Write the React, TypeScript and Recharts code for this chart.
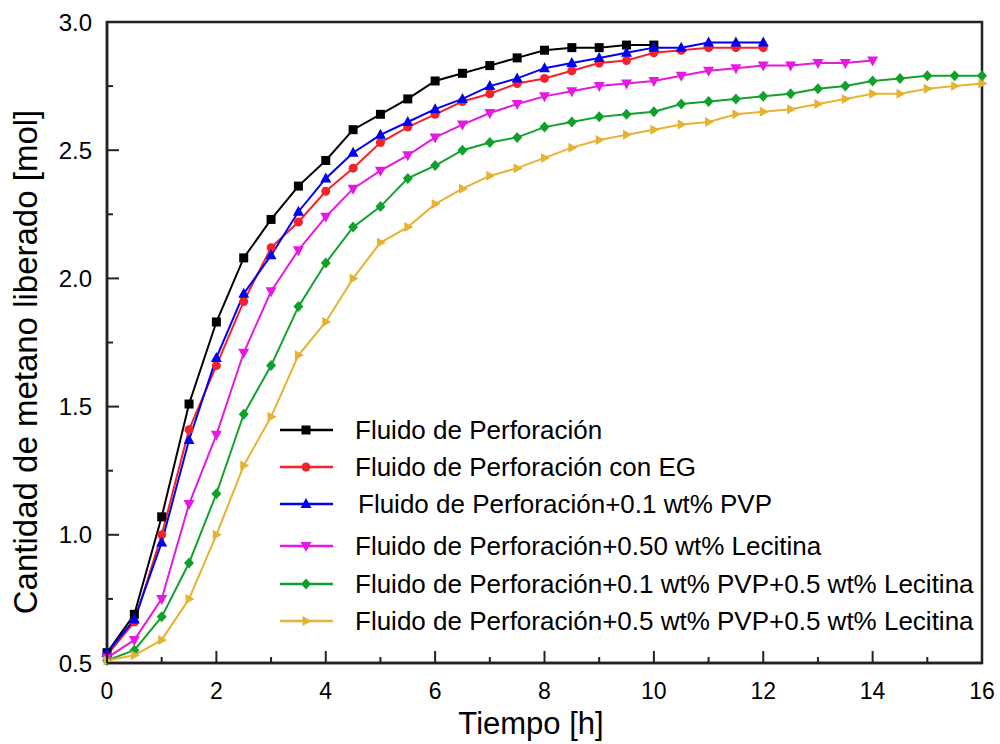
import React from 'react';
import { LineChart, Line, XAxis, YAxis, ReferenceArea } from 'recharts';

// tiempo [h]
const times = [0, 0.5, 1, 1.5, 2, 2.5, 3, 3.5, 4, 4.5, 5, 5.5, 6, 6.5, 7, 7.5, 8, 8.5, 9, 9.5, 10, 10.5, 11, 11.5, 12, 12.5, 13, 13.5, 14, 14.5, 15, 15.5, 16];

// metano liberado [mol], one value per time step (shorter series stop early)
const fluido = [0.54, 0.69, 1.07, 1.51, 1.83, 2.08, 2.23, 2.36, 2.46, 2.58, 2.64, 2.70, 2.77, 2.80, 2.83, 2.86, 2.89, 2.90, 2.90, 2.91, 2.91];
const fluidoEG = [0.53, 0.66, 1.00, 1.41, 1.66, 1.91, 2.12, 2.22, 2.34, 2.43, 2.53, 2.59, 2.64, 2.69, 2.72, 2.76, 2.78, 2.81, 2.84, 2.85, 2.88, 2.89, 2.90, 2.90, 2.90];
const fluidoPVP = [0.54, 0.67, 0.97, 1.37, 1.69, 1.94, 2.09, 2.26, 2.39, 2.49, 2.56, 2.61, 2.66, 2.70, 2.75, 2.78, 2.82, 2.84, 2.86, 2.88, 2.90, 2.90, 2.92, 2.92, 2.92];
const fluidoLec = [0.52, 0.59, 0.75, 1.12, 1.39, 1.71, 1.95, 2.11, 2.24, 2.35, 2.42, 2.48, 2.55, 2.60, 2.645, 2.68, 2.71, 2.73, 2.75, 2.76, 2.77, 2.79, 2.81, 2.82, 2.83, 2.83, 2.84, 2.84, 2.85];
const fluidoPVP01Lec = [0.51, 0.55, 0.68, 0.89, 1.16, 1.47, 1.66, 1.89, 2.06, 2.20, 2.28, 2.39, 2.44, 2.50, 2.53, 2.55, 2.59, 2.61, 2.63, 2.64, 2.65, 2.68, 2.69, 2.70, 2.71, 2.72, 2.74, 2.75, 2.77, 2.78, 2.79, 2.79, 2.79];
const fluidoPVP05Lec = [0.51, 0.53, 0.59, 0.75, 1.00, 1.27, 1.46, 1.70, 1.83, 2.00, 2.14, 2.20, 2.29, 2.35, 2.40, 2.43, 2.47, 2.51, 2.54, 2.56, 2.58, 2.60, 2.61, 2.64, 2.65, 2.66, 2.68, 2.70, 2.72, 2.72, 2.74, 2.75, 2.76];

const xTicks = [0, 1, 2, 3, 4, 5, 6, 7, 8, 9, 10, 11, 12, 13, 14, 15, 16];
const yTicks = [0.5, 0.75, 1.0, 1.25, 1.5, 1.75, 2.0, 2.25, 2.5, 2.75, 3.0];

type Shape = 'square' | 'circle' | 'up' | 'down' | 'diamond' | 'right';

const series: { key: string; name: string; color: string; shape: Shape; values: number[] }[] = [
  { key: 'fluido', name: 'Fluido de Perforación', color: '#000000', shape: 'square', values: fluido },
  { key: 'eg', name: 'Fluido de Perforación con EG', color: '#f4232b', shape: 'circle', values: fluidoEG },
  { key: 'pvp', name: 'Fluido de Perforación+0.1 wt% PVP', color: '#0000f5', shape: 'up', values: fluidoPVP },
  { key: 'lec', name: 'Fluido de Perforación+0.50 wt% Lecitina', color: '#e619e0', shape: 'down', values: fluidoLec },
  { key: 'pvpLec', name: 'Fluido de Perforación+0.1 wt% PVP+0.5 wt% Lecitina', color: '#12a02c', shape: 'diamond', values: fluidoPVP01Lec },
  { key: 'pvp5Lec', name: 'Fluido de Perforación+0.5 wt% PVP+0.5 wt% Lecitina', color: '#e5b232', shape: 'right', values: fluidoPVP05Lec },
];

const data = times.map((t, i) => {
  const row: Record<string, number | undefined> = { t };
  series.forEach(s => { row[s.key] = s.values[i]; });
  return row;
});

const FONT = '"Liberation Sans", Arial, sans-serif';
const AXIS = '#222';
// plot box edges (margin + axis size)
const PLOT_LEFT = 107;
const PLOT_BOTTOM = 663;
// legend row centres inside the plot
const legendRows = [430, 467, 504, 546, 584, 621];

const Marker = ({ cx, cy, color, shape }: { cx: number; cy: number; color: string; shape: Shape }) => {
  switch (shape) {
    case 'square':
      return <rect x={cx - 4.5} y={cy - 4.5} width={9} height={9} fill={color} />;
    case 'circle':
      return <circle cx={cx} cy={cy} r={4.5} fill={color} />;
    case 'up':
      return <polygon points={`${cx},${cy - 6} ${cx - 5.5},${cy + 4} ${cx + 5.5},${cy + 4}`} fill={color} />;
    case 'down':
      return <polygon points={`${cx},${cy + 6} ${cx - 5.5},${cy - 4} ${cx + 5.5},${cy - 4}`} fill={color} />;
    case 'diamond':
      return <polygon points={`${cx},${cy - 5.5} ${cx + 5},${cy} ${cx},${cy + 5.5} ${cx - 5},${cy}`} fill={color} />;
    default:
      return <polygon points={`${cx + 5.5},${cy} ${cx - 3.5},${cy - 5} ${cx - 3.5},${cy + 5}`} fill={color} />;
  }
};

const YTick = (props: any) => {
  const { y, payload } = props;
  const v = payload.value as number;
  const major = Math.abs(v * 2 - Math.round(v * 2)) < 1e-6;
  return (
    <g>
      <line x1={PLOT_LEFT} x2={PLOT_LEFT + (major ? 12 : 6)} y1={y} y2={y} stroke={AXIS} strokeWidth={2} />
      {major && (
        <text x={PLOT_LEFT - 15} y={y + 8.5} textAnchor="end" fontSize={24} fontFamily={FONT} fill="#000">
          {v.toFixed(1)}
        </text>
      )}
    </g>
  );
};

const XTick = (props: any) => {
  const { x, payload } = props;
  const v = payload.value as number;
  const major = v % 2 === 0;
  return (
    <g>
      <line x1={x} x2={x} y1={PLOT_BOTTOM} y2={PLOT_BOTTOM - (major ? 12 : 6)} stroke={AXIS} strokeWidth={2} />
      {major && (
        <text x={x} y={PLOT_BOTTOM + 36} textAnchor="middle" fontSize={23} fontFamily={FONT} fill="#000">
          {v}
        </text>
      )}
    </g>
  );
};

const LegendBox = () => (
  <div style={{ position: 'absolute', left: 0, top: 0, fontFamily: FONT, fontSize: 26, color: '#000' }}>
    {series.map((s, i) => (
      <div
        key={s.key}
        style={{ position: 'absolute', left: 280, top: legendRows[i] - 16, height: 32, display: 'flex', alignItems: 'center' }}
      >
        <svg width={75} height={20} style={{ flexShrink: 0 }}>
          <line x1={0} x2={53} y1={10} y2={10} stroke={s.color} strokeWidth={2.5} />
          <Marker cx={26} cy={10} color={s.color} shape={s.shape} />
        </svg>
        <span style={{ whiteSpace: 'nowrap', marginLeft: i === 2 ? 3 : 0 }}>{s.name}</span>
      </div>
    ))}
  </div>
);

export default function App() {
  return (
    <div style={{ position: 'absolute', left: 0, top: 0, width: 1000, height: 744, background: '#fff' }}>
      <LineChart width={1000} height={744} data={data} margin={{ top: 22, right: 18, bottom: 11, left: 0 }}>
        <XAxis
          dataKey="t"
          type="number"
          domain={[0, 16]}
          ticks={xTicks}
          interval={0}
          tickLine={false}
          tick={<XTick />}
          height={70}
          axisLine={{ stroke: AXIS, strokeWidth: 2.5 }}
          label={{
            content: () => (
              <text x={531} y={734} textAnchor="middle" fontSize={31} fontFamily={FONT} fill="#000">
                Tiempo [h]
              </text>
            ),
          }}
        />
        <YAxis
          type="number"
          domain={[0.5, 3]}
          ticks={yTicks}
          interval={0}
          tickLine={false}
          tick={<YTick />}
          width={107}
          axisLine={{ stroke: AXIS, strokeWidth: 2.5 }}
          label={{
            content: () => (
              <text
                x={37}
                y={362}
                transform="rotate(-90, 37, 362)"
                textAnchor="middle"
                fontSize={33}
                fontFamily={FONT}
                fill="#000"
              >
                Cantidad de metano liberado [mol]
              </text>
            ),
          }}
        />
        <ReferenceArea x1={0} x2={16} y1={0.5} y2={3} fill="none" stroke={AXIS} strokeWidth={2.5} />
        {series.map(s => (
          <Line
            key={s.key}
            dataKey={s.key}
            name={s.name}
            stroke={s.color}
            strokeWidth={2}
            type="linear"
            isAnimationActive={false}
            connectNulls={false}
            dot={(p: any) =>
              p.cy == null || p.value == null ? (
                <g key={`${s.key}-${p.index}`} />
              ) : (
                <Marker key={`${s.key}-${p.index}`} cx={p.cx} cy={p.cy} color={s.color} shape={s.shape} />
              )
            }
            activeDot={false}
          />
        ))}
      </LineChart>
      <LegendBox />
    </div>
  );
}
